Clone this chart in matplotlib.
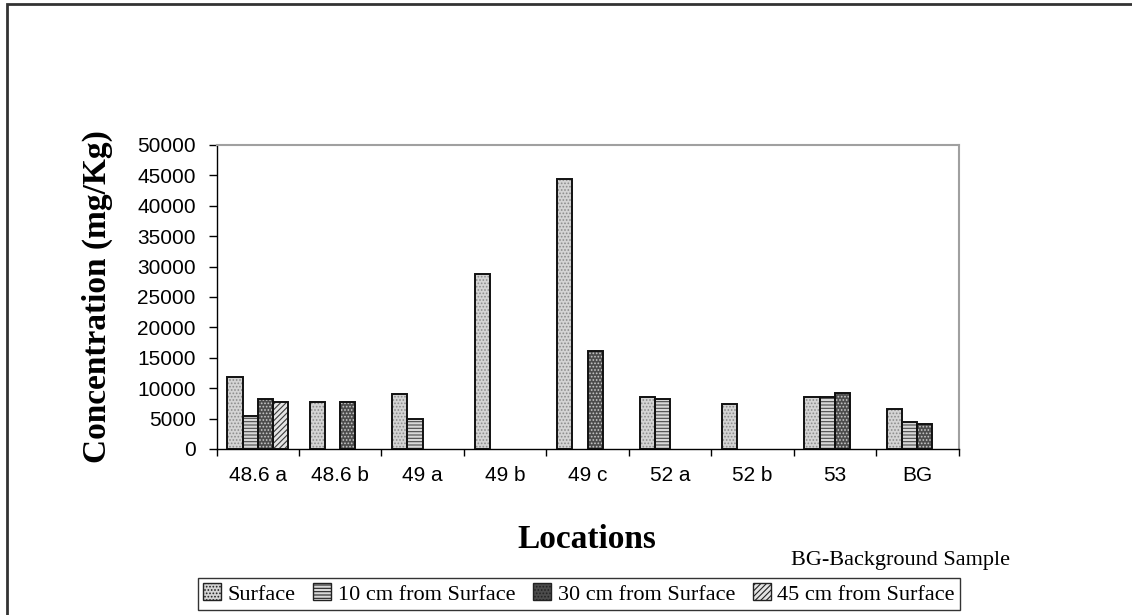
import numpy as np
import matplotlib
matplotlib.use("Agg")
import matplotlib.pyplot as plt
from matplotlib.patches import Patch, Rectangle

locations = ['48.6 a', '48.6 b', '49 a', '49 b', '49 c', '52 a', '52 b', '53', 'BG']
series_names = ['Surface', '10 cm from Surface', '30 cm from Surface', '45 cm from Surface']
surface = [11900, 7800, 9000, 28800, 44400, 8550, 7350, 8550, 6600]
cm10 = [5500, np.nan, 4900, np.nan, np.nan, 8300, np.nan, 8550, 4500]
cm30 = [8200, 7800, np.nan, np.nan, 16100, np.nan, np.nan, 9250, 4050]
cm45 = [7800, np.nan, np.nan, np.nan, np.nan, np.nan, np.nan, np.nan, np.nan]
yticks = list(range(0, 50001, 5000))

styles = [
    dict(facecolor='#d4d4d4', hatch='.....', hcolor='#8c8c8c'),
    dict(facecolor='#d8d8d8', hatch='-----', hcolor='#4a4a4a'),
    dict(facecolor='#4c4c4c', hatch='.....', hcolor='#c8c8c8'),
    dict(facecolor='#e4e4e4', hatch='//////', hcolor='#3a3a3a'),
]

plt.rcParams['hatch.linewidth'] = 0.8
fig = plt.figure(figsize=(11.32, 6.15), dpi=100)
L, R, T, B = 216.5, 958.5, 145, 449
ax = fig.add_axes([L / 1132, 1 - B / 615, (R - L) / 1132, (B - T) / 615])

x = np.arange(len(locations))
bw = 0.184
for k, vals in enumerate([surface, cm10, cm30, cm45]):
    st = styles[k]
    pos = x + (k - 1.5) * bw
    ax.bar(pos, vals, width=bw, color=st['facecolor'], hatch=st['hatch'],
           edgecolor=st['hcolor'], linewidth=0, zorder=2)
    ax.bar(pos, vals, width=bw, fill=False, edgecolor='#111111', linewidth=1.4, zorder=3)

ax.set_xlim(-0.5, len(locations) - 0.5)
ax.set_ylim(0, 50000)
ax.set_yticks(yticks)
ax.set_yticklabels([str(v) for v in yticks], fontfamily='Liberation Sans', fontsize=15)
ax.tick_params(axis='y', direction='out', length=6, width=1, pad=9)

ax.set_xticks(np.arange(-0.5, len(locations), 1.0))
ax.set_xticklabels([])
ax.set_xticks(x, minor=True)
ax.set_xticklabels(locations, minor=True, fontfamily='Liberation Sans', fontsize=15)
ax.tick_params(axis='x', which='major', direction='out', length=5, width=1)
ax.tick_params(axis='x', which='minor', length=0, pad=12)

for s in ['top', 'right']:
    ax.spines[s].set_color('#a0a0a0')
    ax.spines[s].set_linewidth(1.5)
for s in ['left', 'bottom']:
    ax.spines[s].set_color('black')
    ax.spines[s].set_linewidth(1.0)

fig.text(97 / 1132, 1 - 297 / 615, 'Concentration (mg/Kg)', rotation=90,
         ha='center', va='center', fontfamily='Liberation Serif',
         fontweight='bold', fontsize=24)
fig.text(587 / 1132, 1 - 548 / 615, 'Locations', ha='center', va='baseline',
         fontfamily='Liberation Serif', fontweight='bold', fontsize=24)
fig.text(1010 / 1132, 1 - 565 / 615, 'BG-Background Sample', ha='right',
         va='baseline', fontfamily='Liberation Serif', fontsize=16)

handles = [Patch(facecolor=st['facecolor'], hatch=st['hatch'], edgecolor='#222222',
                 linewidth=1.0) for st in styles]
leg = fig.legend(handles, series_names, loc='center', bbox_to_anchor=(579 / 1132, 1 - 594 / 615),
                 ncol=4, frameon=True, fancybox=False, edgecolor='black',
                 prop={'family': 'Liberation Serif', 'size': 16},
                 handlelength=0.8, handleheight=0.8, handletextpad=0.3,
                 columnspacing=0.8, borderpad=0.25, borderaxespad=0)
leg.get_frame().set_linewidth(1.0)

fig.patches.append(Rectangle((7 / 1132, -0.05), 1.2, 1 - 4 / 615 + 0.05,
                             transform=fig.transFigure, fill=False,
                             edgecolor='#333333', linewidth=2, zorder=10))

fig.savefig('out.png', dpi=100)
